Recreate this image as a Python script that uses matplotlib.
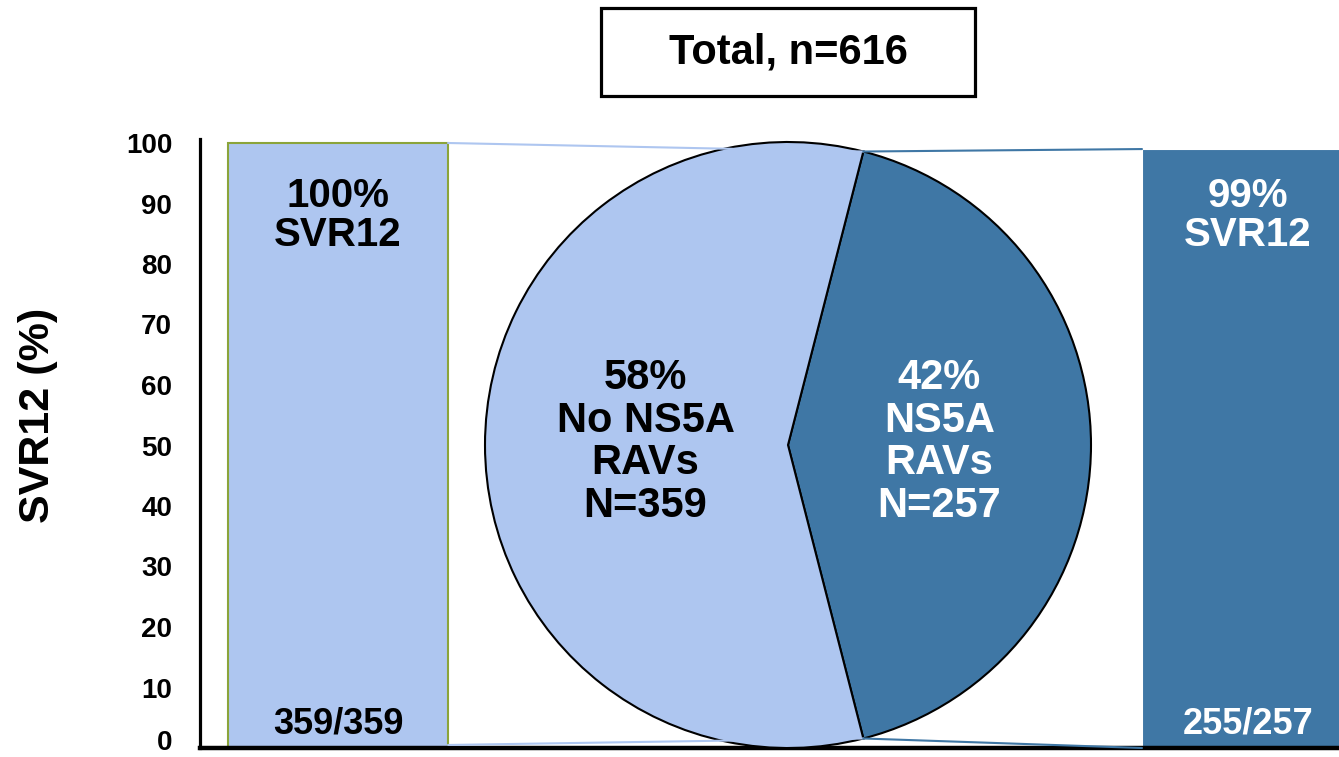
import matplotlib
matplotlib.use("Agg")
import matplotlib.pyplot as plt
from matplotlib.patches import ConnectionPatch, Rectangle
import matplotlib.transforms as mtransforms
import numpy as np

plt.rcParams['font.family'] = ['Liberation Sans', 'DejaVu Sans']
plt.rcParams['font.weight'] = 'bold'

# data
groups = ["No NS5A RAVs", "NS5A RAVs"]
group_n = [359, 257]
svr_pct = [100, 99]
svr_frac = ["359/359", "255/257"]
share_pct = [58, 42]
total_n = 616
yticks = [0, 10, 20, 30, 40, 50, 60, 70, 80, 90, 100]

light = "#aec6f0"
dark = "#3f77a5"

W, H = 1339, 757
fig = plt.figure(figsize=(W / 100, H / 100), dpi=100)

# main axes (pixel based layout)
ax = fig.add_axes([200 / W, 9 / H, (W - 200) / W, 609 / H])
ax.set_xlim(0, 1139)
ax.set_ylim(0, 100 * 609 / 605)

bar_x = [138, 1052]
bars = ax.bar(bar_x, svr_pct, width=220, color=[light, dark],
              edgecolor=["#8ba43a", "white"], linewidth=[1.5, 1.5], zorder=2)

for x, p, fr, c in zip(bar_x, svr_pct, svr_frac, ["black", "white"]):
    xt = x if c == "black" else x - 4
    ax.text(xt, 88.0, f"{p}%\nSVR12", ha="center", va="center", fontsize=29,
            color=c, fontweight="bold", linespacing=1.05, zorder=3)
    ax.text(xt, 4.0, fr, ha="center", va="center", fontsize=26,
            color=c, fontweight="bold", zorder=3)

ax.set_yticks(yticks)
ax.set_yticklabels([str(t) for t in yticks], fontsize=20, fontweight="bold")
ax.tick_params(axis="y", length=0, pad=20)
# lift the "0" label so it stays inside the figure
lbl0 = ax.get_yticklabels()[0]
lbl0.set_transform(lbl0.get_transform() +
                   mtransforms.ScaledTranslation(0, 8 / 100, fig.dpi_scale_trans))
ax.set_xticks([])
ax.spines["top"].set_visible(False)
ax.spines["right"].set_visible(False)
ax.spines["left"].set_linewidth(2.3)
ax.spines["bottom"].set_linewidth(3.2)
ax.set_ylabel("SVR12 (%)", fontsize=31, fontweight="bold")
ax.yaxis.set_label_coords(-0.1247, 0.547)

# pie
cx, cy, r = 788, 445, 303
pax = fig.add_axes([(cx - r) / W, (H - cy - r) / H, 2 * r / W, 2 * r / H])
start = -share_pct[1] / 100 * 180
wedges, _ = pax.pie([share_pct[1], share_pct[0]], colors=[dark, light],
                    startangle=start, counterclock=True, radius=1,
                    wedgeprops=dict(edgecolor="black", linewidth=1.5))
pax.set_xlim(-1, 1)
pax.set_ylim(-1, 1)
pax.set_aspect("equal")

pax.text(-0.47, 0.01, f"{share_pct[0]}%\nNo NS5A\nRAVs\nN={group_n[0]}",
         ha="center", va="center", fontsize=30, fontweight="bold",
         color="black", linespacing=1.08)
pax.text(0.50, 0.01, f"{share_pct[1]}%\nNS5A\nRAVs\nN={group_n[1]}",
         ha="center", va="center", fontsize=30, fontweight="bold",
         color="white", linespacing=1.08)

# connector lines from pie boundary to the bars
a = np.deg2rad(-start)
top = (np.cos(a), np.sin(a))
bot = (np.cos(a), -np.sin(a))
bar_l = bar_x[0] + 110
bar_r = bar_x[1] - 110
for p_pie, p_bar, col in [(top, (bar_l, 100), light), (bot, (bar_l, 0.5), light),
                          (top, (bar_r, 99), dark), (bot, (bar_r, 0), dark)]:
    con = ConnectionPatch(xyA=p_bar, coordsA=ax.transData,
                          xyB=p_pie, coordsB=pax.transData,
                          color=col, linewidth=1.5, zorder=1)
    fig.add_artist(con)

# title box
fig.add_artist(Rectangle((601 / W, 1 - 96 / H), 374 / W, 88 / H,
                         transform=fig.transFigure, facecolor="white",
                         edgecolor="black", linewidth=2.3))
fig.text(788 / W, 1 - 53 / H, f"Total, n={total_n}", ha="center", va="center",
         fontsize=30, fontweight="bold")

fig.savefig("out.png", dpi=100)
